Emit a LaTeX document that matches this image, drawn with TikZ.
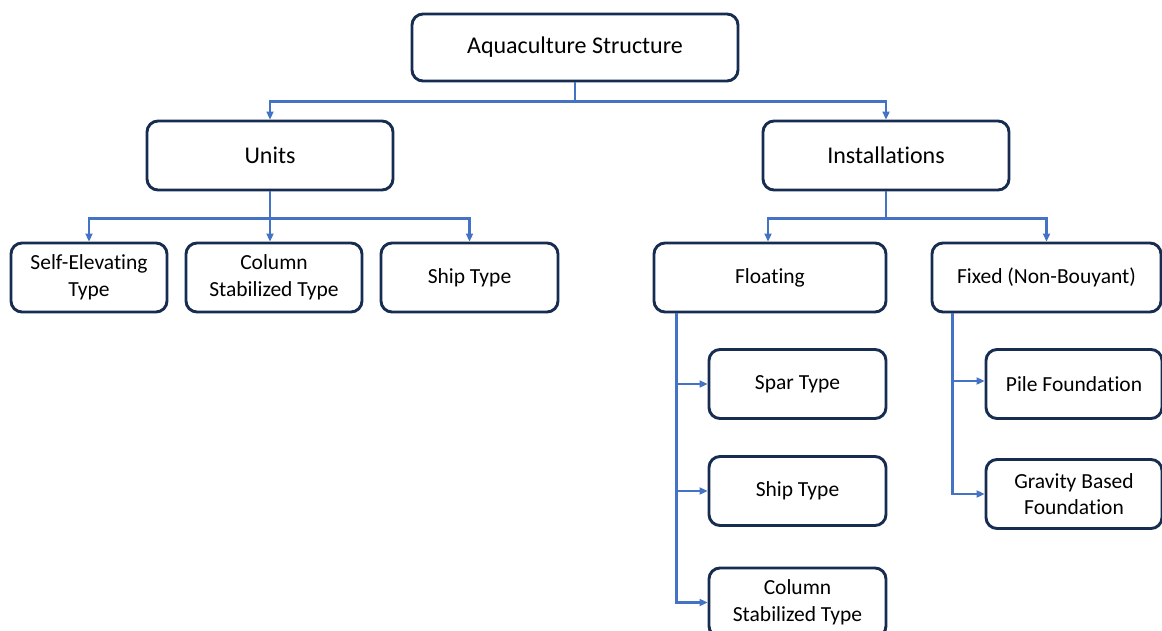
\documentclass[tikz,border=0pt]{standalone}
\usepackage{fontspec}
\setmainfont{Carlito}[RawFeature=-liga]
\usetikzlibrary{arrows.meta,calc}
\definecolor{boxline}{HTML}{172C51}
\definecolor{arrblue}{HTML}{4472C4}
\tikzset{
  box/.style={draw=boxline, line width=2.9pt, rounded corners=11pt, fill=white,
    align=center, inner sep=0pt, text=black},
  big/.style={box, font=\fontsize{24}{28}\selectfont},
  small/.style={box, font=\fontsize{21.5}{26.5}\selectfont},
  arr/.style={draw=arrblue, line width=2.6pt, -{Triangle[length=8pt,width=7pt]}},
  lin/.style={draw=arrblue, line width=2.6pt},
}
\begin{document}
\begin{tikzpicture}[x=1pt,y=-1pt]
\useasboundingbox (0,0) rectangle (1162,631);
\clip (0,0) rectangle (1162,631);
\node[big, minimum width=326pt, minimum height=67pt] (top) at (575,47.5) {Aquaculture Structure};
\node[big, minimum width=246pt, minimum height=69pt] (units) at (270,155.5) {Units};
\node[big, minimum width=246pt, minimum height=69pt] (inst) at (886,155.5) {Installations};
\node[small, minimum width=156pt, minimum height=69pt] (self) at (89,277.5) {Self-Elevating\\Type};
\node[small, minimum width=176pt, minimum height=69pt] (col) at (274,277.5) {Column\\Stabilized Type};
\node[small, minimum width=177pt, minimum height=69pt] (ship) at (469.5,277.5) {Ship Type};
\node[small, minimum width=232pt, minimum height=69pt] (float) at (770,277.5) {Floating};
\node[small, minimum width=229pt, minimum height=69pt] (fixed) at (1046.5,277.5) {Fixed (Non-Bouyant)};
\node[small, minimum width=177pt, minimum height=69pt] (spar) at (797.5,384) {Spar Type};
\node[small, minimum width=177pt, minimum height=69pt] (fship) at (797.5,491) {Ship Type};
\node[small, minimum width=177pt, minimum height=69pt] (fcol) at (797.5,602.5) {Column\\Stabilized Type};
\node[small, minimum width=176pt, minimum height=69pt] (pile) at (1074,384) {Pile Foundation};
\node[small, minimum width=176pt, minimum height=69pt] (grav) at (1074,494) {Gravity Based\\Foundation};
% connectors
\draw[lin] (top.south) -- ++(0,19) coordinate (bus1);
\draw[arr] (bus1) -| (units.north);
\draw[arr] (bus1) -| (inst.north);
\draw[lin] (units.south) -- ++(0,27) coordinate (bus2);
\draw[arr] (bus2) -| (self.north);
\draw[arr] (bus2) -- (col.north -| bus2);
\draw[arr] (bus2) -| (ship.north);
\draw[lin] (inst.south) -- ++(0,27) coordinate (bus3);
\draw[arr] (bus3) -| ([xshift=-2pt]float.north);
\draw[arr] (bus3) -| (fixed.north);
\coordinate (fl) at ([xshift=24pt]float.south west);
\draw[arr] (fl) |- (spar.west);
\draw[arr] (fl) |- (fship.west);
\draw[arr] (fl) |- (fcol.west);
\coordinate (fx) at ([xshift=22pt]fixed.south west);
\draw[arr] (fx) |- ([yshift=3pt]pile.west);
\draw[arr] (fx) |- (grav.west);
\end{tikzpicture}
\end{document}
